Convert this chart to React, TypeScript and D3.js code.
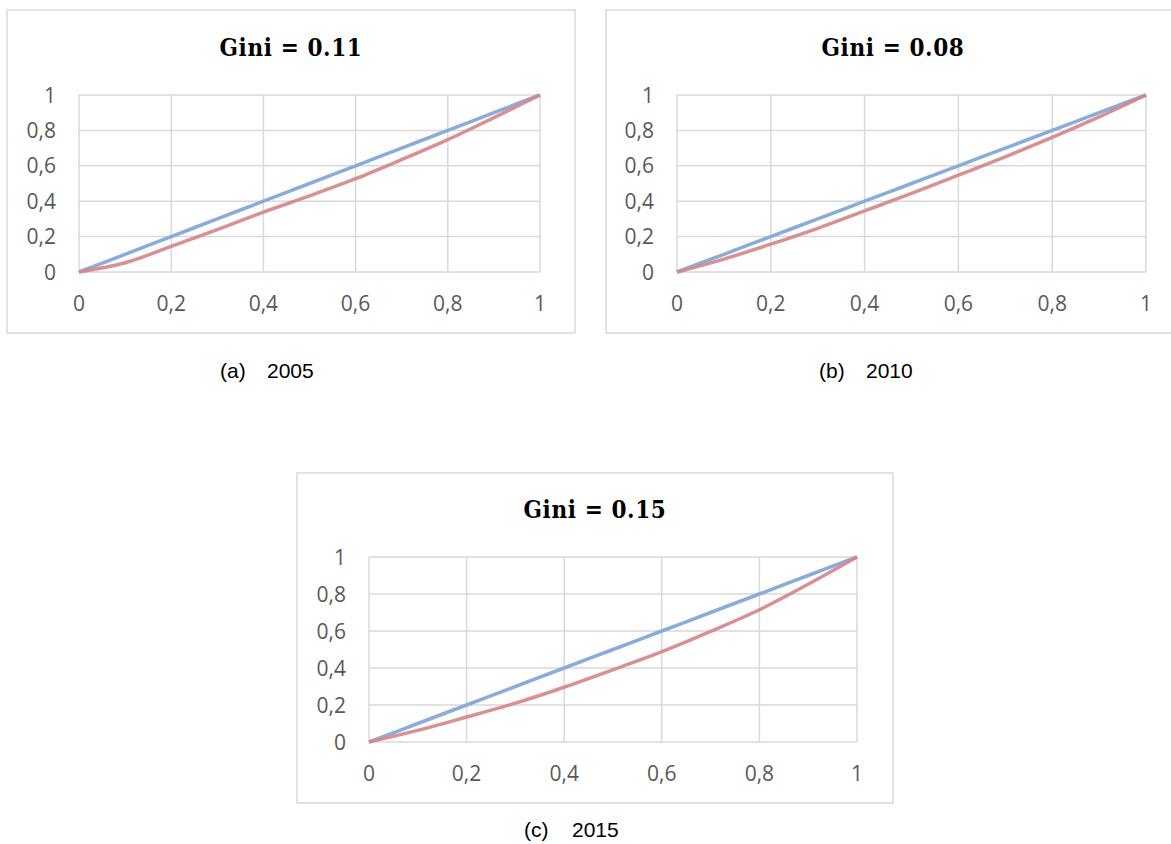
import React from "react";
import * as d3 from "d3";

const populationShare = [0, 0.1, 0.2, 0.3, 0.4, 0.5, 0.6, 0.7, 0.8, 0.9, 1];
const equality = [0, 0.1, 0.2, 0.3, 0.4, 0.5, 0.6, 0.7, 0.8, 0.9, 1];
const lorenz2005 = [0, 0.052, 0.145, 0.24, 0.338, 0.43, 0.527, 0.635, 0.748, 0.872, 1];
const lorenz2010 = [0, 0.073, 0.157, 0.247, 0.345, 0.444, 0.547, 0.651, 0.76, 0.876, 1];
const lorenz2015 = [0, 0.063, 0.135, 0.21, 0.296, 0.39, 0.488, 0.598, 0.715, 0.853, 1];
const titles = ["Gini = 0.11", "Gini = 0.08", "Gini = 0.15"];
const captionLetters = ["(a)", "(b)", "(c)"];
const captionYears = ["2005", "2010", "2015"];
const tickValues = [0, 0.2, 0.4, 0.6, 0.8, 1];
const tickLabel = (v: number) => (v === 0 || v === 1 ? String(v) : String(v).replace(".", ","));

type PanelProps = {
  frame: { x: number; y: number; w: number; h: number };
  plot: { x0: number; x1: number; y0: number; y1: number };
  title: string;
  lorenz: number[];
  captionLetter: string;
  captionYear: string;
  caption: { x1: number; x2: number; y: number };
};

const GRID = "#d9d9d9";
const BLUE = "#8aacda";
const RED = "#d6878a";

function Panel({ frame, plot, title, lorenz, captionLetter, captionYear, caption }: PanelProps) {
  const x = d3.scaleLinear().domain([0, 1]).range([plot.x0, plot.x1]);
  const y = d3.scaleLinear().domain([0, 1]).range([plot.y1, plot.y0]);
  const line = d3
    .line<number>()
    .x((_, i) => x(populationShare[i]))
    .y((d) => y(d))
    .curve(d3.curveCatmullRom.alpha(0.5));
  const cx = frame.x + frame.w / 2;
  return (
    <g>
      <rect x={frame.x} y={frame.y} width={frame.w} height={frame.h} fill="#fff" stroke={GRID} strokeWidth={1.5} />
      <text
        x={cx}
        y={plot.y0 - 39}
        textAnchor="middle"
        fontFamily="'DejaVu Serif Condensed', 'DejaVu Serif', serif"
        fontWeight="bold"
        fontSize={24}
        letterSpacing={0.6}
        fill="#000"
      >
        {title}
      </text>
      {tickValues.map((t) => (
        <line key={"gx" + t} x1={x(t)} x2={x(t)} y1={plot.y0} y2={plot.y1} stroke={GRID} strokeWidth={1.5} />
      ))}
      {tickValues.map((t) => (
        <line key={"gy" + t} x1={plot.x0} x2={plot.x1} y1={y(t)} y2={y(t)} stroke={GRID} strokeWidth={1.5} />
      ))}
      {tickValues.map((t) => (
        <text
          key={"ly" + t}
          x={plot.x0 - 23}
          y={y(t) + 7.5}
          textAnchor="end"
          fontFamily="'Open Sans', sans-serif"
          fontSize={21}
          fill="#595959"
        >
          {tickLabel(t)}
        </text>
      ))}
      {tickValues.map((t) => (
        <text
          key={"lx" + t}
          x={x(t)}
          y={plot.y1 + 39}
          textAnchor="middle"
          fontFamily="'Open Sans', sans-serif"
          fontSize={21}
          fill="#595959"
        >
          {tickLabel(t)}
        </text>
      ))}
      <path d={line(equality) || ""} fill="none" stroke={BLUE} strokeWidth={3.5} />
      <path d={line(lorenz) || ""} fill="none" stroke={RED} strokeWidth={3.5} strokeOpacity={0.92} />
      <text x={caption.x1} y={caption.y} fontFamily="'Liberation Sans', Arial, sans-serif" fontSize={21} fill="#000">
        {captionLetter}
      </text>
      <text x={caption.x2} y={caption.y} fontFamily="'Liberation Sans', Arial, sans-serif" fontSize={21} fill="#000">
        {captionYear}
      </text>
    </g>
  );
}

export default function App() {
  const data = [lorenz2005, lorenz2010, lorenz2015];
  const frames = [
    { x: 7, y: 10, w: 568, h: 323 },
    { x: 606, y: 10, w: 574, h: 323 },
    { x: 297, y: 473, w: 596, h: 330 },
  ];
  const plots = [
    { x0: 79, x1: 540, y0: 95, y1: 272 },
    { x0: 677, x1: 1146, y0: 95, y1: 272 },
    { x0: 369, x1: 857, y0: 557, y1: 742 },
  ];
  const captions = [
    { x1: 220, x2: 267, y: 378 },
    { x1: 819, x2: 866, y: 378 },
    { x1: 524, x2: 572, y: 837 },
  ];
  return (
    <svg
      width={1171}
      height={844}
      style={{ position: "absolute", left: 0, top: 0, background: "#fff" }}
    >
      <rect x={0} y={0} width={1171} height={844} fill="#fff" />
      {data.map((d, i) => (
        <Panel
          key={i}
          frame={frames[i]}
          plot={plots[i]}
          title={titles[i]}
          lorenz={d}
          captionLetter={captionLetters[i]}
          captionYear={captionYears[i]}
          caption={captions[i]}
        />
      ))}
    </svg>
  );
}
